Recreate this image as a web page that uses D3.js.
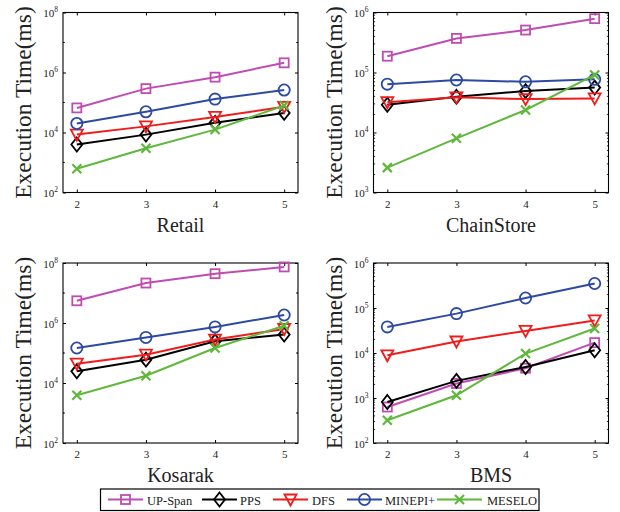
<!DOCTYPE html>
<html>
<head>
<meta charset="utf-8">
<script src="https://cdn.jsdelivr.net/npm/d3@7"></script>
<style>
  html, body { margin: 0; padding: 0; background: #fff; }
  svg { display: block; }
  text { font-family: "Liberation Serif", "Times New Roman", serif; fill: #222; }
</style>
</head>
<body>
<svg id="chart" width="620" height="512"></svg>
<script>
// ---------- data ----------
const categories = [2, 3, 4, 5];
const seriesNames = ["UP-Span", "PPS", "DFS", "MINEPI+", "MESELO"];
const panelTitles = ["Retail", "ChainStore", "Kosarak", "BMS"];

// values in ms, one row per series (UP-Span, PPS, DFS, MINEPI+, MESELO)
const retailValues = [
  [6.6e4, 2.9e5, 7.0e5, 2.1e6],
  [4.0e3, 8.5e3, 2.1e4, 4.5e4],
  [8.5e3, 1.6e4, 3.3e4, 7.2e4],
  [2.0e4, 4.9e4, 1.3e5, 2.6e5],
  [620, 3.0e3, 1.25e4, 7.9e4]
];
const chainStoreValues = [
  [1.87e5, 3.7e5, 5.1e5, 7.9e5],
  [2.9e4, 3.95e4, 4.9e4, 5.6e4],
  [3.2e4, 3.85e4, 3.6e4, 3.7e4],
  [6.4e4, 7.5e4, 7.0e4, 7.7e4],
  [2.6e3, 8.0e3, 2.37e4, 9.1e4]
];
const kosarakValues = [
  [5.5e6, 2.15e7, 4.4e7, 7.4e7],
  [2.45e4, 6.0e4, 2.45e5, 4.1e5],
  [4.4e4, 8.8e4, 2.8e5, 6.3e5],
  [1.47e5, 3.3e5, 7.4e5, 1.85e6],
  [3.9e3, 1.75e4, 1.47e5, 8.1e5]
];
const bmsValues = [
  [630, 2.1e3, 4.6e3, 1.7e4],
  [815, 2.4e3, 4.9e3, 1.15e4],
  [8.9e3, 1.8e4, 3.1e4, 5.3e4],
  [3.8e4, 7.5e4, 1.67e5, 3.5e5],
  [320, 1.15e3, 9.7e3, 3.5e4]
];

// tick label exponents per panel (y axis is log10)
const retailYTicks = [2, 4, 6, 8];
const chainStoreYTicks = [3, 4, 5, 6];
const kosarakYTicks = [2, 4, 6, 8];
const bmsYTicks = [2, 3, 4, 5, 6];

const yLabel = "Execution Time(ms)";

// ---------- styles ----------
const colors = ["#c04cb2", "#000000", "#f01c1c", "#2c4aa2", "#5fb83c"];
const markers = ["square", "diamond", "triDown", "circle", "x"];

const panels = [
  { title: panelTitles[0], values: retailValues, ticks: retailYTicks, left: 63, top: 12.5 },
  { title: panelTitles[1], values: chainStoreValues, ticks: chainStoreYTicks, left: 373.5, top: 12.5 },
  { title: panelTitles[2], values: kosarakValues, ticks: kosarakYTicks, left: 63, top: 263 },
  { title: panelTitles[3], values: bmsValues, ticks: bmsYTicks, left: 373.5, top: 263 }
];
const W = 235, H = 180;

const svg = d3.select("#chart");

function drawMarker(g, type, color) {
  const sw = 1.8;
  if (type === "square") {
    g.append("rect").attr("x", -4.5).attr("y", -4.5).attr("width", 9).attr("height", 9)
      .attr("fill", "none").attr("stroke", color).attr("stroke-width", sw);
  } else if (type === "diamond") {
    g.append("path").attr("d", "M0,-7L5.5,0L0,7L-5.5,0Z")
      .attr("fill", "none").attr("stroke", color).attr("stroke-width", sw);
  } else if (type === "triDown") {
    g.append("path").attr("d", "M-6,-5L6,-5L0,6Z")
      .attr("fill", "none").attr("stroke", color).attr("stroke-width", sw);
  } else if (type === "circle") {
    g.append("circle").attr("r", 5.6)
      .attr("fill", "none").attr("stroke", color).attr("stroke-width", sw);
  } else if (type === "x") {
    g.append("path").attr("d", "M-4.5,-4.5L4.5,4.5M-4.5,4.5L4.5,-4.5")
      .attr("fill", "none").attr("stroke", color).attr("stroke-width", sw + 0.4);
  }
}

panels.forEach(p => {
  const g = svg.append("g").attr("transform", `translate(${p.left},${p.top})`);
  const x = d3.scaleLinear().domain([1.8, 5.2]).range([0, W]);
  const lo = d3.min(p.ticks), hi = d3.max(p.ticks);
  const y = d3.scaleLog().domain([Math.pow(10, lo), Math.pow(10, hi)]).range([H, 0]);

  // minor ticks
  const minor = [];
  const span = hi - lo;
  for (let e = lo; e < hi; e++) {
    if (span <= 4) {
      for (let m = 2; m <= 9; m++) minor.push(m * Math.pow(10, e));
    } else if (!p.ticks.includes(e)) {
      minor.push(Math.pow(10, e));
    }
  }
  if (span > 4) for (let e = lo; e <= hi; e++) if (!p.ticks.includes(e)) minor.push(Math.pow(10, e));

  const yMajor = p.ticks.map(e => Math.pow(10, e));

  // left axis with labels
  const axL = d3.axisLeft(y).tickValues(yMajor).tickSizeInner(-3).tickSizeOuter(0).tickPadding(7).tickFormat(() => "");
  const gl = g.append("g").call(axL);
  gl.select(".domain").remove();
  gl.selectAll(".tick line").attr("stroke", "#000");
  gl.selectAll(".tick text").remove();
  gl.selectAll(".tick").append("text")
    .attr("x", -5).attr("y", 4).attr("text-anchor", "end")
    .style("font-size", "11px")
    .each(function(d) {
      const t = d3.select(this);
      t.append("tspan").text("10");
      t.append("tspan").attr("dy", -5).style("font-size", "7.5px").text(Math.round(Math.log10(d)));
    });
  // minor ticks left / right
  g.append("g").selectAll("line.mnl").data(minor).join("line")
    .attr("x1", 0).attr("x2", 1.6).attr("y1", d => y(d)).attr("y2", d => y(d))
    .attr("stroke", "#000").attr("stroke-width", 0.8);
  g.append("g").selectAll("line.mnr").data(minor).join("line")
    .attr("x1", W).attr("x2", W - 1.6).attr("y1", d => y(d)).attr("y2", d => y(d))
    .attr("stroke", "#000").attr("stroke-width", 0.8);
  // right major ticks
  const axR = d3.axisRight(y).tickValues(yMajor).tickSizeInner(-3).tickSizeOuter(0).tickFormat(() => "");
  const gr = g.append("g").attr("transform", `translate(${W},0)`).call(axR);
  gr.select(".domain").remove();
  gr.selectAll(".tick line").attr("stroke", "#000");

  // bottom axis
  const axB = d3.axisBottom(x).tickValues(categories).tickSizeInner(-3).tickSizeOuter(0).tickPadding(0).tickFormat(d3.format("d"));
  const gb = g.append("g").attr("transform", `translate(0,${H})`).call(axB);
  gb.select(".domain").remove();
  gb.selectAll(".tick line").attr("stroke", "#000");
  gb.selectAll(".tick text").attr("y", 15).attr("dy", null)
    .style("font-size", "11px").style("font-family", '"Liberation Serif", serif').attr("fill", "#222");
  // top ticks
  const axT = d3.axisTop(x).tickValues(categories).tickSizeInner(-3).tickSizeOuter(0).tickFormat(() => "");
  const gt = g.append("g").call(axT);
  gt.select(".domain").remove();
  gt.selectAll(".tick line").attr("stroke", "#000");

  // box
  g.append("rect").attr("x", 0).attr("y", 0).attr("width", W).attr("height", H)
    .attr("fill", "none").attr("stroke", "#000").attr("stroke-width", 1.1);

  // series
  const line = d3.line().x((d, i) => x(categories[i])).y(d => y(d));
  p.values.forEach((vals, si) => {
    g.append("path").datum(vals).attr("d", line)
      .attr("fill", "none").attr("stroke", colors[si]).attr("stroke-width", 2);
    vals.forEach((v, i) => {
      const mg = g.append("g").attr("transform", `translate(${x(categories[i])},${y(v)})`);
      drawMarker(mg, markers[si], colors[si]);
    });
  });

  // x title
  g.append("text").attr("x", x(3.5)).attr("y", H + 39).attr("text-anchor", "middle")
    .style("font-size", "20px").text(p.title);
  // y title
  g.append("text")
    .attr("transform", `translate(${-32},${H / 2 - 0}) rotate(-90)`)
    .attr("text-anchor", "middle")
    .style("font-size", "23.5px").text(yLabel);
});

// ---------- legend ----------
const legend = svg.append("g");
legend.append("rect").attr("x", 100.5).attr("y", 489).attr("width", 438.5).attr("height", 21.5)
  .attr("fill", "#fff").attr("stroke", "#000").attr("stroke-width", 1.2);
const legLineStart = [108, 202, 273, 347, 437];
const legLineEnd = [143, 237, 308, 382, 482];
const legTextX = [147, 240, 312, 385, 487];
const legY = 499.5;
seriesNames.forEach((name, i) => {
  legend.append("line").attr("x1", legLineStart[i]).attr("x2", legLineEnd[i])
    .attr("y1", legY).attr("y2", legY).attr("stroke", colors[i]).attr("stroke-width", 2);
  const mg = legend.append("g").attr("transform", `translate(${(legLineStart[i] + legLineEnd[i]) / 2},${legY})`);
  drawMarker(mg, markers[i], colors[i]);
  legend.append("text").attr("x", legTextX[i]).attr("y", legY + 5)
    .style("font-size", "12.5px").text(name);
});
</script>
</body>
</html>
